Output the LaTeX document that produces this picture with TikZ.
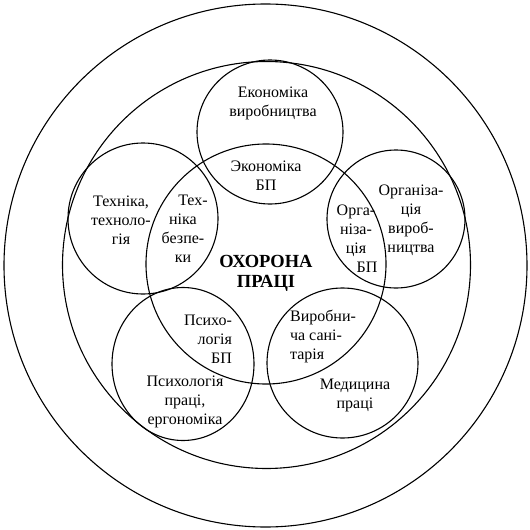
\documentclass[tikz,border=0pt]{standalone}
\usepackage{fontspec}
\setmainfont{Liberation Serif}
\begin{document}
\begin{tikzpicture}[x=1pt,y=-1pt,line width=1.1pt,
  lbl/.style={font=\fontsize{16}{19}\selectfont,inner sep=0pt},
  big/.style={font=\fontsize{18.5}{20.5}\selectfont\bfseries,inner sep=0pt,align=center}]
\useasboundingbox (0,0) rectangle (530,530);
\draw (265.5,265.5) circle [radius=261.5];
\draw (266.5,265) ellipse [x radius=204,y radius=203.5];
\draw (266,264) circle [radius=120];
\draw (270,132) ellipse [x radius=73,y radius=72];
\draw (143,218.5) ellipse [x radius=75,y radius=75.5];
\draw (396,219) ellipse [x radius=69,y radius=69];
\draw (183,364) ellipse [x radius=71,y radius=76.5];
\draw (342.5,363) ellipse [x radius=75.5,y radius=75];
\node[lbl,align=center] (ev) at (273,103) {Економіка\\виробництва};
\node[lbl,align=center] (eb) at (266,176) {Экономіка\\БП};
\node[lbl,align=center] (tt) at (121,220) {Техніка,\\техноло-\\гія};
\node[lbl,align=center] (tb) at (183,228.5) {\hspace*{20pt}Тех-\\ніка\\безпе-\\ки};
\node[big] (op) at (266,273.5) {ОХОРОНА\\ПРАЦІ};
\node[lbl,align=center] (ob) at (356,238.5) {Орга-\\ніза-\\ція\\\hspace*{22pt}БП};
\node[lbl,align=center] (ov) at (411,220) {Організа-\\ція\\вироб-\\ництва};
\node[lbl,align=left] (vs) at (323,336) {Виробни-\\ча сані-\\тарія};
\node[lbl,align=center] (mp) at (355,395) {Медицина\\праці};
\node[lbl,align=right] (pb) at (208,339) {Психо-\\логія\\БП};
\node[lbl,align=center] (pp) at (185,401.5) {Психологія\\праці,\\ергономіка};
\end{tikzpicture}
\end{document}
